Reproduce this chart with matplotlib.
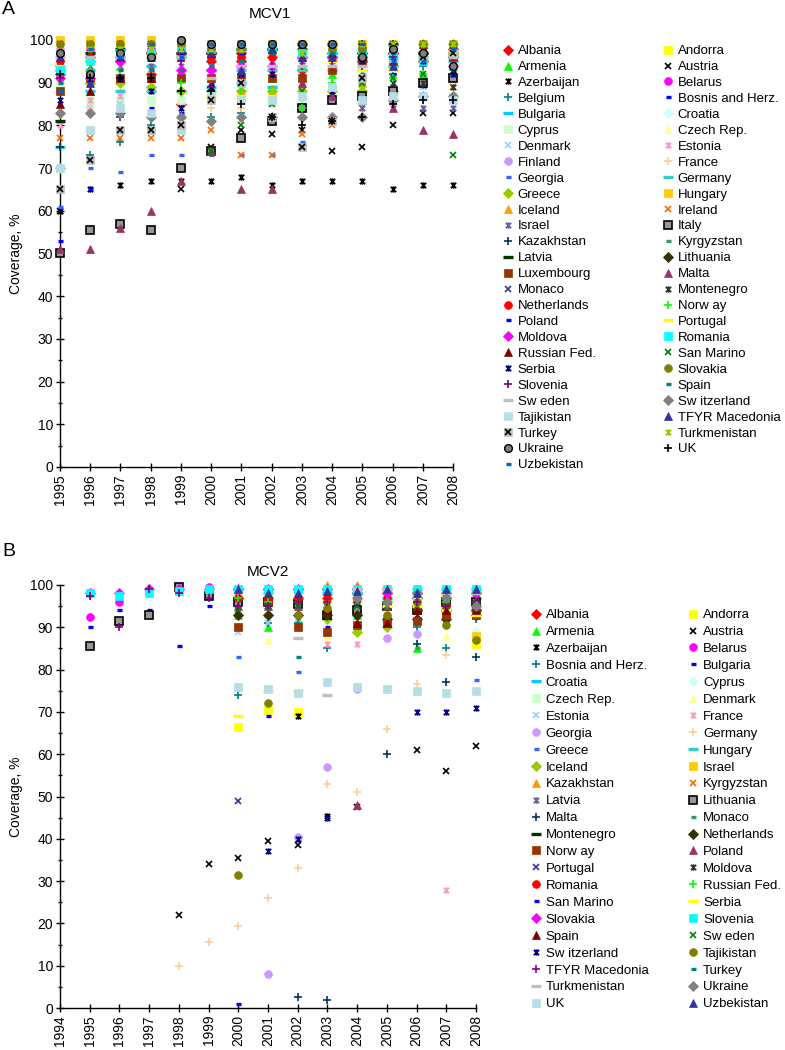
import matplotlib
matplotlib.use("Agg")
import matplotlib.pyplot as plt
import matplotlib.ticker as mticker
from matplotlib.path import Path
from matplotlib.legend_handler import HandlerTuple
import numpy as np

plt.rcParams["font.family"] = ["Liberation Sans", "DejaVu Sans"]

N = None

# ── MCV1 data (coverage %, 1995..2008) ──────────────────────────────────────
YEARS_MCV1 = list(range(1995, 2009))
COUNTRIES_MCV1 = [
    "Albania", "Andorra", "Armenia", "Austria", "Azerbaijan", "Belarus",
    "Belgium", "Bosnis and Herz.", "Bulgaria", "Croatia", "Cyprus",
    "Czech Rep.", "Denmark", "Estonia", "Finland", "France", "Georgia",
    "Germany", "Greece", "Hungary", "Iceland", "Ireland", "Israel", "Italy",
    "Kazakhstan", "Kyrgyzstan", "Latvia", "Lithuania", "Luxembourg", "Malta",
    "Monaco", "Montenegro", "Netherlands", "Norw ay", "Poland", "Portugal",
    "Moldova", "Romania", "Russian Fed.", "San Marino", "Serbia", "Slovakia",
    "Slovenia", "Spain", "Sw eden", "Sw itzerland", "Tajikistan",
    "TFYR Macedonia", "Turkey", "Turkmenistan", "Ukraine", "UK", "Uzbekistan",
]
MCV1 = [
    [92, 96, 95, 92, 85, 95, 95, 96, 93, 96, 97, 97, 97, 98],
    [N, 99, 99, 99, 99, 98, 98, 97, 98, 98, 98, 98, 98, 98],
    [93, 88, 92, 91, 92, 92, 93, 91, 94, 92, 92, 94, 92, 94],
    [60, N, N, N, 65, 75, 79, 78, 79, 74, 75, 80, 83, 83],
    [60, 65, 66, 67, 67, 67, 68, 66, 67, 67, 67, 65, 66, 66],
    [97, 98, 98, 98, 98, 99, 99, 99, 99, 99, 99, 97, 97, 98],
    [N, 73, 76, 80, 82, 82, 83, 86, 88, 88, 88, 92, 94, 94],
    [53, 65, 88, 84, 83, 90, 90, 89, 91, 88, 90, 92, 89, 93],
    [93, 93, 96, 94, 96, 89, 90, 89, 96, 96, 96, 96, 96, 96],
    [90, 91, 92, 93, 93, 93, 94, 94, 95, 95, 96, 96, 96, 96],
    [90, 86, 86, 86, 86, 86, 86, 86, 86, 86, 86, 86, 87, 87],
    [97, 97, 97, 97, 97, 97, 97, 97, 97, 97, 97, 97, 97, 97],
    [88, 84, 85, 92, 92, 99, 94, 96, 96, 96, 95, 89, 89, 89],
    [80, 86, 87, 92, 93, 93, 95, 95, 95, 96, 96, 96, 95, 95],
    [98, 99, 98, 97, 96, 96, 96, 96, 97, 97, 97, 97, 97, 97],
    [83, 84, 83, 82, 84, 84, 84, 85, 86, 87, 87, 87, 87, 87],
    [61, 70, 69, 73, 73, 73, 73, 73, 76, 86, 92, 95, 97, 96],
    [75, 88, 88, 88, 88, 93, 93, 93, 93, 93, 93, 94, 95, 95],
    [70, 90, 90, 89, 88, 88, 88, 88, 88, 88, 88, 88, 99, 99],
    [100, 100, 100, 100, 99, 99, 99, 99, 99, 99, 99, 99, 99, 99],
    [98, 99, 98, 93, 93, 91, 88, 88, 90, 90, 90, 95, 96, 96],
    [77, 77, 77, 77, 77, 79, 73, 73, 78, 80, 84, 86, 87, 89],
    [94, 94, 94, 94, 94, 94, 95, 95, 95, 95, 84, 84, 84, 84],
    [50, 55.5, 57, 55.5, 70, 74, 77, 81, 84, 86, 87, 88, 90, 91],
    [75, 96, 99, 99, 99, 99, 99, 99, 99, 99, 99, 99, 99, 99],
    [97, 98, 97, 98, 98, 98, 98, 98, 99, 99, 99, 99, 99, 99],
    [81, 97, 98, 97, 97, 97, 98, 98, 99, 99, 95, 99, 97, 97],
    [94, 95, 96, 97, 97, 97, 97, 98, 98, 97, 97, 97, 97, 96],
    [88, 91, 91, 91, 91, 91, 91, 91, 91, 93, 95, 95, 96, 96],
    [51, 51, 56, 60, 67, 74, 65, 65, 90, 87, 86, 84, 79, 78],
    [99, 99, 99, 99, 99, 99, 99, 99, 99, 99, 99, 99, 99, 99],
    [N, N, N, N, N, N, N, N, N, N, N, 90, 90, 89],
    [95, 96, 96, 96, 96, 96, 96, 96, 96, 96, 96, 96, 96, 96],
    [92, 93, 93, 91, 90, 88, 88, 88, 84, 90, 90, 91, 92, 93],
    [96, 96, 97, 97, 97, 97, 97, 98, 98, 98, 98, 98, 98, 98],
    [94, 95, 96, 97, 96, 87, 87, 87, 96, 95, 93, 93, 95, 97],
    [91, 91, 95, 97, 93, 93, 94, 94, 96, 96, 96, 97, 95, 94],
    [93, 95, 97, 97, 98, 98, 98, 98, 97, 97, 97, 96, 95, 97],
    [85, 88, 91, 91, 98, 97, 98, 98, 96, 97, 99, 98, 99, 99],
    [N, N, N, N, N, 74, 80, 85, 88, 89, 90, 91, 92, 73],
    [86, 90, 91, 88, 84, 89, 92, 92, 87, 88, 95, 95, 95, 92],
    [99, 99, 99, 99, 99, 98, 98, 99, 99, 98, 98, 98, 99, 99],
    [91, 92, 82, 92, 95, 89, 92, 94, 94, 94, 94, 96, 96, 96],
    [90, 90, 93, 93, 93, 94, 95, 97, 97, 97, 97, 97, 97, 97],
    [96, 96, 96, 96, 96, 91, 94, 94, 94, 94, 94, 95, 96, 96],
    [83, 83, 83, 82, 82, 81, 82, 82, 82, 82, 82, 86, 87, 87],
    [70, 79, 84, 83, 79, 87, 86, 86, 87, 89, 86, 87, 87, 86],
    [96, 90, 96, 96, 98, 97, 93, 98, 96, 96, 96, 94, 96, 98],
    [65, 72, 79, 79, 80, 86, 90, 82, 75, 81, 91, 98, 96, 97],
    [97, 98, 98, 98, 98, 98, 98, 88, 97, 99, 99, 99, 99, 99],
    [97, 92, 97, 96, 100, 99, 99, 99, 99, 99, 96, 98, 97, 94],
    [92, 91, 91, 91, 88, 88, 85, 82, 80, 81, 82, 85, 86, 86],
    [88, 98, 96, 99, 96, 99, 99, 99, 99, 99, 99, 95, 95, 98],
]

# ── MCV2 data (coverage %, 1995..2008) ──────────────────────────────────────
YEARS_MCV2 = list(range(1995, 2009))
COUNTRIES_MCV2 = [
    "Albania", "Andorra", "Armenia", "Austria", "Azerbaijan", "Belarus",
    "Bosnia and Herz.", "Bulgaria", "Croatia", "Cyprus", "Czech Rep.",
    "Denmark", "Estonia", "France", "Georgia", "Germany", "Greece", "Hungary",
    "Iceland", "Israel", "Kazakhstan", "Kyrgyzstan", "Latvia", "Lithuania",
    "Malta", "Monaco", "Montenegro", "Netherlands", "Norw ay", "Poland",
    "Portugal", "Moldova", "Romania", "Russian Fed.", "San Marino", "Serbia",
    "Slovakia", "Slovenia", "Spain", "Sw eden", "Sw itzerland", "Tajikistan",
    "TFYR Macedonia", "Turkey", "Turkmenistan", "Ukraine", "UK", "Uzbekistan",
]
MCV2 = [
    [N, N, N, N, N, 97, 97, 97, 97, 98, 98, 97, 97, 98],
    [N, N, N, N, N, 66.5, 70.5, 70, N, N, N, N, N, 86],
    [N, N, N, N, N, 93, 90, 92, 94, 93, 95, 85, 95, 96],
    [N, N, N, 22, 34, 35.5, 39.5, 38.5, N, 47.5, N, 61, 56, 62],
    [N, N, N, N, N, N, N, 69, 45.5, 98, 98, 98, 98, 97],
    [92.5, 96, N, N, 99.5, 99, 99, 99, 99, 99, 99, 99, 99, 99],
    [N, N, N, N, N, 74, 91, 91, 85, 90, 90, 90, 85, 92],
    [90, 94, 94, 85.5, 95, 90, 69, 90, 90, 95, 93, 96, 96, 95],
    [N, N, N, N, N, 97, 98, 97, 98, 98, 97, 97, 97, 97],
    [N, N, N, N, N, N, N, N, N, N, N, N, N, 89],
    [N, N, N, N, N, 97, 97, 97, 97, 97, 97, 97, 97, 97],
    [N, N, N, N, N, N, 87, N, 88, N, N, N, 88, N],
    [N, N, N, N, N, 89, 91, 92, 95, 95, 95, 95, 95, 95],
    [N, N, N, N, N, N, N, N, 86, 86, N, N, 28, N],
    [N, N, N, N, N, N, 8, 40.5, 57, 75.5, 87.5, 88.5, N, N],
    [N, N, N, 10, 15.5, 19.5, 26, 33, 53, 51, 66, 76.5, 83.5, 88],
    [N, N, N, N, N, 83, N, 79.5, N, N, N, N, N, 77.5],
    [N, N, N, N, N, 99, 99, 99, 99, 99, 99, 99, 99, 99],
    [N, N, N, N, N, N, N, N, 92, 89, 90, N, N, N],
    [N, N, N, N, N, N, N, N, N, N, 92, 91.5, 93, 88],
    [N, N, N, N, N, 99, 99, 99, 100, 100, 99, 99, 99, 99],
    [N, N, N, N, N, 98, 98, 98, 98, 98, 98, 98, 98, 98],
    [N, N, N, N, N, 95, 96, 96, 96, 96, 96, 96, 96, 96],
    [85.5, 91.5, 93, 99.5, 97.5, 96, 96, 95.5, 93, 94, 95, 94, 96, 96],
    [N, N, N, N, N, N, N, 2.5, 2, N, 60, 86, 77, 83],
    [N, N, N, N, N, N, N, N, N, N, N, 85, 93, 93],
    [N, N, N, N, N, N, N, N, N, N, N, 94, 94, 94],
    [N, N, N, N, N, 93, 93, 93, 93, 93, 92, 92, 92, 93],
    [N, N, N, N, N, 90, 96, 90, 89, 90.5, 91, 91.5, 93, 93],
    [N, N, N, N, N, 95, 95, 95, 95, 48, 95, 95, 95, 95],
    [N, N, N, N, N, 49, 95, 95, 95, 95, 95, 95, 95, 95],
    [N, N, N, N, N, 97, 97, 97, 97, 97, 97, 97, 97, 97],
    [N, N, N, N, N, 97, 97, 97, 97, 97, 97, 95, 95, 95],
    [N, N, N, N, N, 97, 96, 96, 96, 96, 96, 96, 96, 96],
    [N, N, N, N, N, 1, N, N, N, N, N, N, N, N],
    [N, N, N, N, N, 69, 75, 75, 96, 96, 95, 95, 94, 93],
    [98, 98, 99, 99, 99, 99, 99, 99, 99, 99, 98, 98, 98, 98],
    [98, 97.5, 98, 98.5, 99, 99, 99, 99, 99, 99, 99, 99, 99, 99],
    [N, N, N, N, N, N, N, N, 94, 91, 91, 94, 94, 94],
    [N, N, N, N, N, 94, 95, 95, 95, 95, 95, 95, 95, 95],
    [N, N, N, N, N, N, 37, 40, 45, N, N, 70, 70, 71],
    [N, N, N, N, N, 31.5, 72, 93, 94.5, N, 93, 96, 90.5, 87],
    [97.5, 90, 99, 98, 97, 95, 95, 96, 96, 96, 96, 96, 95, 96],
    [N, N, N, N, N, N, N, 83, N, N, N, N, N, N],
    [N, N, N, N, N, N, N, 87.5, 74, 99, 99, 98, 98, 98],
    [N, N, N, N, N, N, N, N, N, 97, 96, 98, 97, 95],
    [N, N, N, N, N, 76, 75.5, 74.5, 77, 76, 75.5, 75, 74.5, 75],
    [N, N, N, N, N, 99, 98, 98, 98.5, 98.5, 99, 98, 99, 99],
]

# Excel-like series styles, in series order: (kind, colour[, edge colour])
STYLES = [
    ("D", "#FF0000"), ("s", "#FFFF00"), ("^", "#00FF00"), ("x", "#000000"),
    ("*", "#000000"), ("o", "#FF00FF"), ("+", "#008080"), ("-", "#0000FF"),
    ("=", "#00CCFF"), ("D", "#CCFFFF"), ("s", "#CCFFCC"), ("^", "#FFFF99"),
    ("x", "#99CCFF"), ("*", "#FF99CC"), ("o", "#CC99FF"), ("+", "#FFCC99"),
    ("-", "#3366FF"), ("=", "#33CCCC"), ("D", "#99CC00"), ("s", "#FFCC00"),
    ("^", "#FF9900"), ("x", "#FF6600"), ("*", "#666699"),
    ("s", "#969696", "#000000"),
    ("+", "#003366"), ("-", "#339966"), ("=", "#003300"), ("D", "#333300"),
    ("s", "#993300"), ("^", "#993366"), ("x", "#333399"), ("*", "#333333"),
    ("o", "#FF0000"), ("+", "#00FF00"), ("-", "#0000FF"), ("=", "#FFFF00"),
    ("D", "#FF00FF"), ("s", "#00FFFF"), ("^", "#800000"), ("x", "#008000"),
    ("*", "#000080"), ("o", "#808000"), ("+", "#800080"), ("-", "#008080"),
    ("=", "#C0C0C0"), ("D", "#808080"), ("s", "#B7DEE8"), ("^", "#333399"),
    ("sx", "#C0C0C0"), ("*", "#99CC00"), ("o", "#808080", "#000000"),
    ("+", "#000000"), ("-", "#0066CC"),
]

STAR = Path(
    [(-1, -1), (1, 1), (-1, 1), (1, -1), (0, -1.2), (0, 1.2)],
    [Path.MOVETO, Path.LINETO, Path.MOVETO, Path.LINETO, Path.MOVETO, Path.LINETO],
)


def marker_kw(kind, color, edge=None):
    edge = edge or color
    if kind == "D":
        return dict(marker="D", ms=4.6, mfc=color, mec=edge, mew=0.6)
    if kind == "s":
        return dict(marker="s", ms=5.6, mfc=color, mec=edge, mew=1.2 if edge != color else 0.5)
    if kind == "^":
        return dict(marker="^", ms=6.3, mfc=color, mec=edge, mew=0.5)
    if kind == "o":
        return dict(marker="o", ms=5.6, mfc=color, mec=edge, mew=1.0 if edge != color else 0.5)
    if kind == "x":
        return dict(marker="x", ms=4.6, mec=color, mew=1.2)
    if kind == "*":
        return dict(marker=STAR, ms=4.6, mec=color, mew=1.3)
    if kind == "+":
        return dict(marker="+", ms=5.4, mec=color, mew=1.2)
    if kind == "-":
        return dict(marker="_", ms=3.6, mec=color, mew=2.4)
    if kind == "=":
        return dict(marker="_", ms=7.0, mec=color, mew=2.4)
    raise ValueError(kind)


def draw_panel(ax, years, countries, values):
    handles = []
    for i, (name, vals) in enumerate(zip(countries, values)):
        st = STYLES[i]
        y = np.array([np.nan if v is None else v for v in vals], dtype=float)
        if st[0] == "sx":
            h1, = ax.plot(years, y, linestyle="none", clip_on=False, zorder=3,
                          **marker_kw("s", st[1]))
            h2, = ax.plot(years, y, linestyle="none", clip_on=False, zorder=3,
                          **marker_kw("x", "#000000"))
            handles.append(((h1, h2), name))
        else:
            h, = ax.plot(years, y, linestyle="none", clip_on=False, zorder=3,
                         **marker_kw(*st))
            handles.append((h, name))
    return handles


def style_axes(ax, x0, x1):
    ax.set_xlim(x0, x1)
    ax.set_ylim(0, 100)
    ax.set_xticks(range(x0, x1 + 1))
    ax.set_xticklabels([str(y) for y in range(x0, x1 + 1)], rotation=90)
    ax.yaxis.set_major_locator(mticker.MultipleLocator(10))
    ax.yaxis.set_minor_locator(mticker.MultipleLocator(5))
    ax.spines["top"].set_visible(False)
    ax.spines["right"].set_visible(False)
    for s in ("left", "bottom"):
        ax.spines[s].set_linewidth(1.0)
    ax.tick_params(which="major", direction="inout", length=6, width=1.0,
                   labelsize=10, pad=2)
    ax.tick_params(which="minor", direction="inout", length=3.5, width=1.0)
    ax.set_ylabel("Coverage, %", fontsize=10, labelpad=5)


def add_legend(fig, ax, handles, anchor, colspacing, labelspacing):
    # rows read left-to-right, so interleave for matplotlib's column filling
    ordered = handles[0::2] + handles[1::2]
    leg = ax.legend(
        [h for h, _ in ordered], [n for _, n in ordered],
        ncol=2, loc="upper left", bbox_to_anchor=anchor,
        bbox_transform=fig.transFigure, frameon=False, fontsize=9.5,
        handlelength=0.9, handletextpad=0.3, labelspacing=labelspacing,
        columnspacing=colspacing, borderpad=0, borderaxespad=0,
        handler_map={tuple: HandlerTuple(ndivide=1)},
    )
    return leg


fig = plt.figure(figsize=(7.85, 10.5), dpi=100)

# ── Panel A: MCV1 ────────────────────────────────────────────────────────────
axA = fig.add_axes([60 / 785, 1 - 467 / 1050, 393 / 785, 427 / 1050])
hA = draw_panel(axA, YEARS_MCV1, COUNTRIES_MCV1, MCV1)
style_axes(axA, 1995, 2008)
add_legend(fig, axA, hA, (502 / 785, 1 - 45 / 1050), 5.0, 0.28)
fig.text(270 / 785, 1 - 14 / 1050, "MCV1", ha="center", va="center", fontsize=11)
fig.text(2 / 785, 1 - 10 / 1050, "A", ha="left", va="center", fontsize=14)

# ── Panel B: MCV2 ────────────────────────────────────────────────────────────
axB = fig.add_axes([60 / 785, 1 - 1008 / 1050, 416 / 785, 423 / 1050])
hB = draw_panel(axB, YEARS_MCV2, COUNTRIES_MCV2, MCV2)
style_axes(axB, 1994, 2008)
add_legend(fig, axB, hB, (530 / 785, 1 - 609 / 1050), 2.93, 0.355)
fig.text(268 / 785, 1 - 572 / 1050, "MCV2", ha="center", va="center", fontsize=11)
fig.text(2 / 785, 1 - 551 / 1050, "B", ha="left", va="center", fontsize=14)

fig.savefig("out.png", dpi=100)
